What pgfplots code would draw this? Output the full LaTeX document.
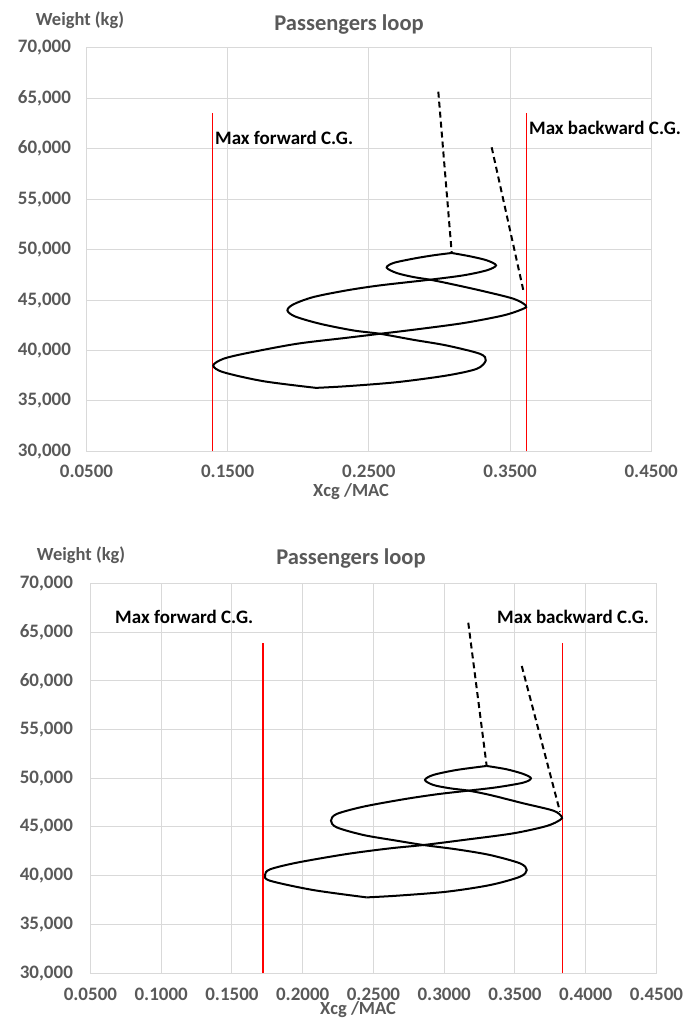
\documentclass[border=0pt]{standalone}
\usepackage{fontspec}
\setmainfont{Carlito}
\usepackage{pgfplots}
\pgfplotsset{compat=1.18}

\definecolor{txtgray}{HTML}{595959}
\definecolor{gridgray}{HTML}{D9D9D9}

\pgfplotsset{
  loopaxis/.style={
    scale only axis, clip=false,
    xmin=0.05, xmax=0.45, ymin=30000, ymax=70000,
    ytick={30000,35000,40000,45000,50000,55000,60000,65000,70000},
    grid=major,
    grid style={gridgray, line width=1pt},
    axis line style={gridgray, line width=1pt},
    major tick length=0pt,
    scaled x ticks=false, scaled y ticks=false,
    xticklabel={\pgfmathprintnumber[fixed,fixed zerofill,precision=4,assume math mode=true]{\tick}},
    yticklabel={\pgfmathprintnumber[fixed,precision=0,1000 sep={,},assume math mode=true]{\tick}},
    ticklabel style={font=\fontsize{19}{22}\selectfont\bfseries, text=txtgray},
  },
  limit/.style={red, line width=1.5pt},
  loop/.style={black, line width=2pt, smooth},
  fuel/.style={black, line width=2pt, dash pattern=on 6pt off 4pt},
}
\newcommand{\annot}{\fontsize{19}{22}\selectfont\bfseries}
\newcommand{\ttl}{\fontsize{22.5}{26}\selectfont\bfseries}
\newcommand{\lbl}{\fontsize{18.5}{21}\selectfont\bfseries}

\begin{document}
\begin{tikzpicture}
\path[use as bounding box] (0,0) rectangle (683pt,1019pt);

% ---------- upper chart ----------
\begin{axis}[loopaxis,
  at={(86.5pt,567.6pt)}, anchor=south west,
  width=564.7pt, height=403.5pt,
  xtick={0.05,0.15,0.25,0.35,0.45},
  yticklabel style={xshift=-12pt},
  xticklabel style={yshift=-10pt},
]
\addplot[limit] coordinates {(0.1391,30000) (0.1391,63530)};
\addplot[limit] coordinates {(0.3618,30000) (0.3618,63530)};
\addplot[fuel] coordinates {(0.2992,65658) (0.3087,49669)};
\addplot[fuel] coordinates {(0.3370,60147) (0.3599,45673)};
\addplot[loop] coordinates {
  (0.2126,36297) (0.1753,36959) (0.1469,37852) (0.1398,38514) (0.1469,39176)
  (0.1635,39739) (0.1989,40666) (0.2343,41262) (0.2579,41659) (0.2815,42056)
  (0.3169,42718) (0.3453,43479) (0.3594,44141) (0.3611,44472) (0.3524,45134)
  (0.3287,45962) (0.3051,46690) (0.2933,47021) (0.2815,47286) (0.2697,47683)
  (0.2626,48213) (0.2674,48676) (0.2815,49106) (0.2957,49437) (0.3087,49669)};
\addplot[loop] coordinates {
  (0.2126,36297) (0.2343,36462) (0.2697,36859) (0.3051,37521) (0.3264,38183)
  (0.3328,39011) (0.3287,39673) (0.3051,40500) (0.2815,41063) (0.2579,41659)
  (0.2390,41990) (0.2154,42652) (0.1977,43380) (0.1923,43976) (0.1965,44572)
  (0.2107,45300) (0.2343,45962) (0.2579,46458) (0.2933,47021) (0.3169,47451)
  (0.3335,47948) (0.3401,48444) (0.3335,48941) (0.3217,49338) (0.3087,49669)};
\node[anchor=west, inner sep=0, font=\annot] at (axis cs:0.141,61068) {Max forward C.G.};
\node[anchor=west, inner sep=0, font=\annot] at (axis cs:0.3634,62060) {Max backward C.G.};
\node[font=\ttl, text=txtgray] at (axis cs:0.236,72270) {Passengers loop};
\node[font=\lbl, text=txtgray] at (axis cs:0.0454,72766) {Weight (kg)};
\node[font=\lbl, text=txtgray] at (axis cs:0.2374,25976) {Xcg /MAC};
\end{axis}

% ---------- lower chart ----------
\begin{axis}[loopaxis,
  at={(90.4pt,45.9pt)}, anchor=south west,
  width=566.1pt, height=389.6pt,
  xtick={0.05,0.10,0.15,0.20,0.25,0.30,0.35,0.40,0.45},
  yticklabel style={xshift=-14pt},
  xticklabel style={yshift=-11pt},
]
\addplot[limit] coordinates {(0.1720,30000) (0.1720,63889)};
\addplot[limit] coordinates {(0.3837,30000) (0.3837,63889)};
\addplot[fuel] coordinates {(0.3170,65975) (0.3300,51267)};
\addplot[fuel] coordinates {(0.3548,61530) (0.3818,46571)};
\addplot[loop] coordinates {
  (0.2452,37773) (0.2075,38526) (0.1769,39485) (0.1734,40068) (0.1769,40650)
  (0.1958,41335) (0.2311,42225) (0.2617,42808) (0.2853,43150) (0.3135,43664)
  (0.3488,44349) (0.3724,45102) (0.3818,45719) (0.3830,46061) (0.3771,46678)
  (0.3559,47431) (0.3324,48288) (0.3171,48733) (0.3041,48973) (0.2923,49315)
  (0.2864,49829) (0.2923,50343) (0.3088,50856) (0.3300,51267)};
\addplot[loop] coordinates {
  (0.2452,37773) (0.2664,37944) (0.3017,38355) (0.3324,39040) (0.3536,39896)
  (0.3583,40581) (0.3536,41266) (0.3324,42123) (0.3088,42705) (0.2853,43150)
  (0.2664,43595) (0.2429,44178) (0.2240,44965) (0.2200,45650) (0.2240,46335)
  (0.2429,47089) (0.2711,47842) (0.2947,48356) (0.3171,48733) (0.3371,49075)
  (0.3559,49555) (0.3613,50000) (0.3559,50445) (0.3441,50925) (0.3300,51267)};
\node[anchor=west, inner sep=0, font=\annot] at (axis cs:0.0674,66560) {Max forward C.G.};
\node[anchor=west, inner sep=0, font=\annot] at (axis cs:0.3373,66560) {Max backward C.G.};
\node[font=\ttl, text=txtgray] at (axis cs:0.2341,72515) {Passengers loop};
\node[font=\lbl, text=txtgray] at (axis cs:0.0434,72926) {Weight (kg)};
\node[font=\lbl, text=txtgray] at (axis cs:0.2391,26250) {Xcg /MAC};
\end{axis}
\end{tikzpicture}
\end{document}
